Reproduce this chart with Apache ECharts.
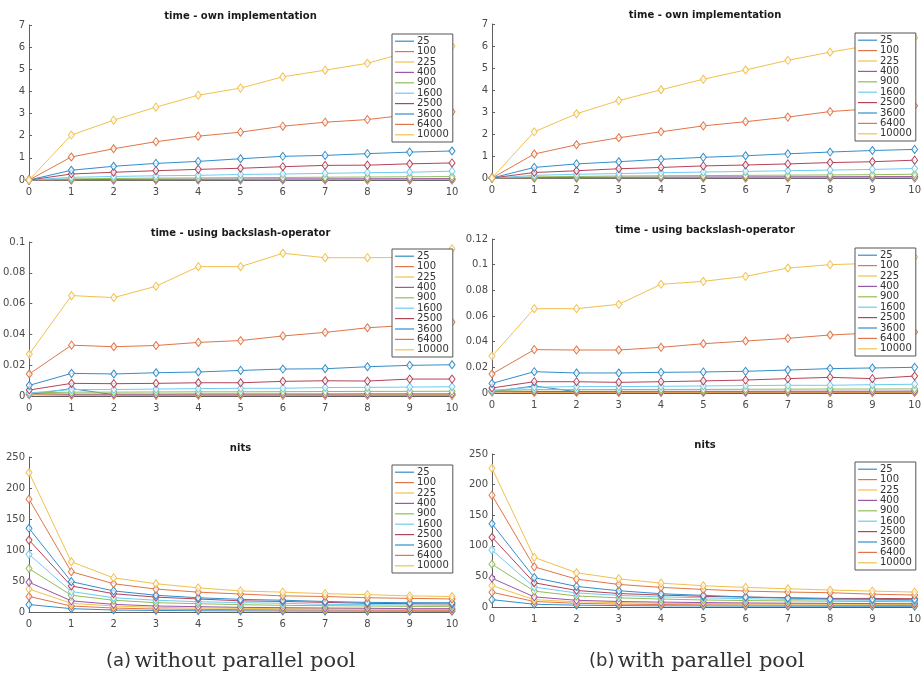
<!DOCTYPE html>
<html><head><meta charset="utf-8">
<script src="https://cdn.jsdelivr.net/npm/echarts@6/dist/echarts.min.js"></script>
<style>html,body{margin:0;padding:0;background:#fff}#c{width:924px;height:679px}</style>
</head><body><div id="c"></div>
<script>
// x values (iteration index)
const iterations = [0,1,2,3,4,5,6,7,8,9,10];
// legend / series names
const seriesNames = ['25','100','225','400','900','1600','2500','3600','6400','10000'];

// time - own implementation, without parallel pool (rows follow seriesNames)
const ownA = [
  [0, 0.002, 0.003, 0.003, 0.004, 0.004, 0.004, 0.005, 0.005, 0.005, 0.005],
  [0, 0.005, 0.007, 0.008, 0.009, 0.010, 0.011, 0.012, 0.013, 0.014, 0.015],
  [0, 0.010, 0.015, 0.018, 0.020, 0.023, 0.025, 0.028, 0.030, 0.032, 0.035],
  [0, 0.020, 0.030, 0.036, 0.040, 0.045, 0.050, 0.053, 0.056, 0.060, 0.063],
  [0, 0.05, 0.07, 0.085, 0.095, 0.105, 0.115, 0.125, 0.135, 0.145, 0.155],
  [0, 0.12, 0.16, 0.19, 0.21, 0.25, 0.27, 0.30, 0.33, 0.35, 0.40],
  [0, 0.27, 0.35, 0.42, 0.48, 0.53, 0.60, 0.66, 0.67, 0.73, 0.77],
  [0, 0.44, 0.62, 0.75, 0.84, 0.96, 1.07, 1.11, 1.19, 1.26, 1.31],
  [0, 1.04, 1.41, 1.73, 1.98, 2.16, 2.43, 2.61, 2.73, 2.95, 3.08],
  [0, 2.03, 2.70, 3.29, 3.83, 4.15, 4.66, 4.96, 5.27, 5.80, 6.05]
];
// time - own implementation, with parallel pool
const ownB = [
  [0, 0.002, 0.003, 0.003, 0.004, 0.004, 0.004, 0.005, 0.005, 0.005, 0.005],
  [0, 0.005, 0.007, 0.008, 0.009, 0.010, 0.011, 0.012, 0.013, 0.014, 0.015],
  [0, 0.010, 0.015, 0.018, 0.021, 0.023, 0.026, 0.028, 0.031, 0.033, 0.036],
  [0, 0.021, 0.031, 0.037, 0.042, 0.047, 0.051, 0.055, 0.058, 0.062, 0.066],
  [0, 0.05, 0.07, 0.09, 0.10, 0.11, 0.12, 0.13, 0.14, 0.15, 0.17],
  [0, 0.12, 0.17, 0.20, 0.24, 0.27, 0.30, 0.33, 0.36, 0.39, 0.43],
  [0, 0.25, 0.33, 0.42, 0.48, 0.55, 0.59, 0.64, 0.70, 0.74, 0.81],
  [0, 0.48, 0.64, 0.74, 0.85, 0.94, 1.01, 1.10, 1.18, 1.25, 1.30],
  [0, 1.09, 1.51, 1.83, 2.10, 2.37, 2.56, 2.77, 3.02, 3.15, 3.28],
  [0, 2.10, 2.92, 3.52, 4.01, 4.49, 4.91, 5.35, 5.72, 6.05, 6.38]
];
// time - using backslash-operator, without parallel pool
const bsA = [
  [0.0010, 0.0048, 0.0008, 0.0006, 0.0006, 0.0006, 0.0006, 0.0006, 0.0006, 0.0006, 0.0006],
  [0.0008, 0.0005, 0.0005, 0.0005, 0.0005, 0.0005, 0.0005, 0.0005, 0.0005, 0.0005, 0.0005],
  [0.0010, 0.0008, 0.0008, 0.0008, 0.0008, 0.0008, 0.0008, 0.0008, 0.0009, 0.0009, 0.0009],
  [0.0015, 0.0012, 0.0012, 0.0012, 0.0013, 0.0013, 0.0013, 0.0013, 0.0014, 0.0014, 0.0014],
  [0.0020, 0.0025, 0.0025, 0.0026, 0.0027, 0.0027, 0.0028, 0.0029, 0.0030, 0.0030, 0.0031],
  [0.0020, 0.0042, 0.0042, 0.0045, 0.0048, 0.0050, 0.0050, 0.0055, 0.0056, 0.0058, 0.0060],
  [0.0039, 0.0082, 0.0080, 0.0082, 0.0086, 0.0086, 0.0095, 0.0099, 0.0097, 0.0110, 0.0110],
  [0.0069, 0.0147, 0.0143, 0.0151, 0.0156, 0.0166, 0.0175, 0.0177, 0.0190, 0.0199, 0.0203],
  [0.0143, 0.0330, 0.0320, 0.0328, 0.0348, 0.0360, 0.0390, 0.0413, 0.0443, 0.0460, 0.0480],
  [0.0272, 0.0652, 0.0639, 0.0713, 0.0840, 0.0840, 0.0927, 0.0898, 0.0898, 0.0900, 0.0955]
];
// time - using backslash-operator, with parallel pool
const bsB = [
  [0.0010, 0.0055, 0.0010, 0.0006, 0.0006, 0.0006, 0.0006, 0.0006, 0.0006, 0.0006, 0.0006],
  [0.0008, 0.0005, 0.0005, 0.0005, 0.0005, 0.0005, 0.0005, 0.0005, 0.0005, 0.0005, 0.0005],
  [0.0010, 0.0008, 0.0008, 0.0008, 0.0008, 0.0008, 0.0009, 0.0009, 0.0009, 0.0009, 0.0009],
  [0.0015, 0.0012, 0.0012, 0.0013, 0.0013, 0.0013, 0.0013, 0.0014, 0.0014, 0.0014, 0.0015],
  [0.0020, 0.0026, 0.0026, 0.0027, 0.0028, 0.0028, 0.0029, 0.0030, 0.0031, 0.0031, 0.0032],
  [0.0020, 0.0045, 0.0050, 0.0050, 0.0052, 0.0055, 0.0058, 0.0060, 0.0060, 0.0065, 0.0068],
  [0.0039, 0.0088, 0.0088, 0.0083, 0.0088, 0.0094, 0.0101, 0.0112, 0.0122, 0.0112, 0.0132],
  [0.0075, 0.0166, 0.0156, 0.0156, 0.0161, 0.0164, 0.0169, 0.0179, 0.0190, 0.0195, 0.0200],
  [0.0148, 0.0338, 0.0335, 0.0335, 0.0356, 0.0384, 0.0405, 0.0426, 0.0452, 0.0468, 0.0475],
  [0.0288, 0.0657, 0.0657, 0.0691, 0.0847, 0.0870, 0.0909, 0.0974, 0.1000, 0.1010, 0.1060]
];
// nits, without parallel pool
const nitsA = [
  [12, 5.4, 3.2, 2.5, 2.0, 1.8, 1.6, 1.5, 1.4, 1.3, 1.2],
  [25, 9.7, 6.4, 4.8, 4.3, 3.8, 3.5, 3.2, 3.0, 2.8, 2.7],
  [37, 14, 9.7, 7.5, 6.4, 5.9, 5.4, 5.0, 4.8, 4.3, 4.3],
  [48, 18, 12.3, 9.7, 8.6, 7.5, 7.0, 6.4, 6.0, 5.4, 5.4],
  [70, 27, 19, 15, 13.4, 11.8, 10.7, 10.2, 9.7, 9.0, 8.6],
  [93, 33, 23, 19, 16.6, 15, 14, 12.3, 11.8, 11.3, 10.7],
  [116, 42, 29.5, 24, 21, 18, 17, 15.5, 14, 13.4, 13],
  [135, 49, 34, 27, 23, 20.4, 19, 17, 15.5, 15, 15],
  [182, 65, 45.6, 37, 32, 29, 26, 25, 23, 22, 21],
  [225, 81, 55, 45.6, 39, 34, 32, 29.5, 28, 26, 25]
];
// nits, with parallel pool
const nitsB = [
  [12, 4.5, 3.0, 2.3, 1.9, 1.7, 1.5, 1.4, 1.3, 1.2, 1.1],
  [24, 9, 6, 4.7, 4, 3.6, 3.3, 3, 2.8, 2.6, 2.5],
  [35, 12, 8.5, 7, 6, 5.5, 5, 4.7, 4.4, 4.2, 4],
  [47, 16.5, 11, 9, 8, 7.2, 6.6, 6.2, 5.9, 5.6, 5.3],
  [70, 26, 18, 15, 13, 11.5, 10.5, 10, 9.5, 9, 8.5],
  [93, 32.5, 23, 19, 16.5, 15, 13.5, 12.5, 11.5, 11, 10.5],
  [114, 39.6, 27, 22, 19.5, 17.4, 16.3, 15.2, 14, 14, 13.6],
  [136, 48, 33.6, 26.6, 21.7, 19, 16.3, 14.6, 13, 12.5, 12],
  [182.7, 65.6, 45.5, 36.9, 32, 28.7, 26, 24.4, 23.3, 21, 19.5],
  [226.7, 81, 56, 46, 39, 34.7, 32, 29.8, 27.7, 26, 24.4]
];
const panelTitles = ['time - own implementation','time - own implementation',
  'time - using backslash-operator','time - using backslash-operator','nits','nits'];
const captions = ['without parallel pool','with parallel pool'];
const captionTags = ['(a)','(b)'];

// ---- styling / layout ----
const colors = ['#338ECA','#E17547','#F1C14D','#9859A5','#92BD59','#71CBF1','#B54359','#338ECA','#E17547','#F1C14D'];
const panels = [
  {data: ownA,  g:{left:29,  top:25,  width:423, height:155}, max:7,    step:1,    lg:{left:392, top:34}},
  {data: ownB,  g:{left:492, top:24,  width:426, height:154}, max:7,    step:1,    lg:{left:855, top:33}},
  {data: bsA,   g:{left:29,  top:242, width:423, height:154}, max:0.1,  step:0.02, lg:{left:392, top:249}},
  {data: bsB,   g:{left:492, top:239, width:426, height:154}, max:0.12, step:0.02, lg:{left:855, top:248}},
  {data: nitsA, g:{left:29,  top:457, width:423, height:155}, max:250,  step:50,   lg:{left:392, top:465}},
  {data: nitsB, g:{left:492, top:454, width:426, height:153}, max:250,  step:50,   lg:{left:855, top:462}}
];
const axisCol = '#606060';
const labelStyle = {fontFamily:'DejaVu Sans', fontSize:10, color:'#4a4a4a'};

const option = {
  animation:false,
  backgroundColor:'#fff',
  color: colors,
  grid: panels.map(p => Object.assign({containLabel:false}, p.g)),
  xAxis: panels.map((p,i) => ({
    type:'value', gridIndex:i, min:0, max:10, interval:1,
    axisLine:{show:true, lineStyle:{color:axisCol, width:1}},
    axisTick:{show:true, inside:true, length:3, lineStyle:{color:axisCol}},
    axisLabel:Object.assign({margin:7}, labelStyle),
    splitLine:{show:false}
  })),
  yAxis: panels.map((p,i) => ({
    type:'value', gridIndex:i, min:0, max:p.max, interval:p.step,
    axisLine:{show:true, lineStyle:{color:axisCol, width:1}},
    axisTick:{show:true, inside:true, length:3, lineStyle:{color:axisCol}},
    axisLabel:Object.assign({margin:4}, labelStyle),
    splitLine:{show:false}
  })),
  title: panels.map((p,i) => ({
    text: panelTitles[i],
    left: p.g.left + p.g.width/2, textAlign:'center',
    top: p.g.top - 14, padding:0,
    textStyle:{fontFamily:'DejaVu Sans', fontSize:10, fontWeight:'bold', color:'#1a1a1a'}
  })),
  legend: panels.map((p,i) => ({
    data: seriesNames.map((n,k) => ({name:n, itemStyle:{color:colors[k], borderWidth:0, borderColor:'transparent'}})),
    orient:'vertical', left:p.lg.left, top:p.lg.top,
    selectedMode:false,
    icon:'rect', itemWidth:19, itemHeight:1.2, itemGap:0,
    itemStyle:{borderWidth:0},
    padding:[2,4,2,3],
    backgroundColor:'#fff', borderColor:'#555', borderWidth:1,
    textStyle:{fontFamily:'DejaVu Sans', fontSize:10, color:'#333', lineHeight:10.4, padding:[0,0,0,-2]},
    z:10
  })),
  series: [],
  graphic: captions.map((c,i) => ({
    type:'text', left: i === 0 ? 106 : 589, top: 651,
    style:{
      text: '{t|' + captionTags[i] + '} {s|' + c + '}',
      rich:{
        t:{fontFamily:'DejaVu Sans', fontSize:18, fill:'#333'},
        s:{fontFamily:'DejaVu Serif', fontSize:21, fill:'#333'}
      }
    }
  }))
};
panels.forEach((p,i) => {
  seriesNames.forEach((name,k) => {
    option.series.push({
      type:'line', name:name, xAxisIndex:i, yAxisIndex:i,
      data: iterations.map((x,j) => [x, p.data[k][j]]),
      symbol:'diamond', symbolSize:[6,8],
      showAllSymbol:true,
      lineStyle:{width:1, color:colors[k]},
      itemStyle:{color:'rgba(255,255,255,0.7)', borderColor:colors[k], borderWidth:1},
      emphasis:{disabled:true},
      z:2+k*0.01
    });
  });
});
const chart = echarts.init(document.getElementById('c'), null, {renderer:'canvas'});
chart.setOption(option);
</script>
</body></html>
